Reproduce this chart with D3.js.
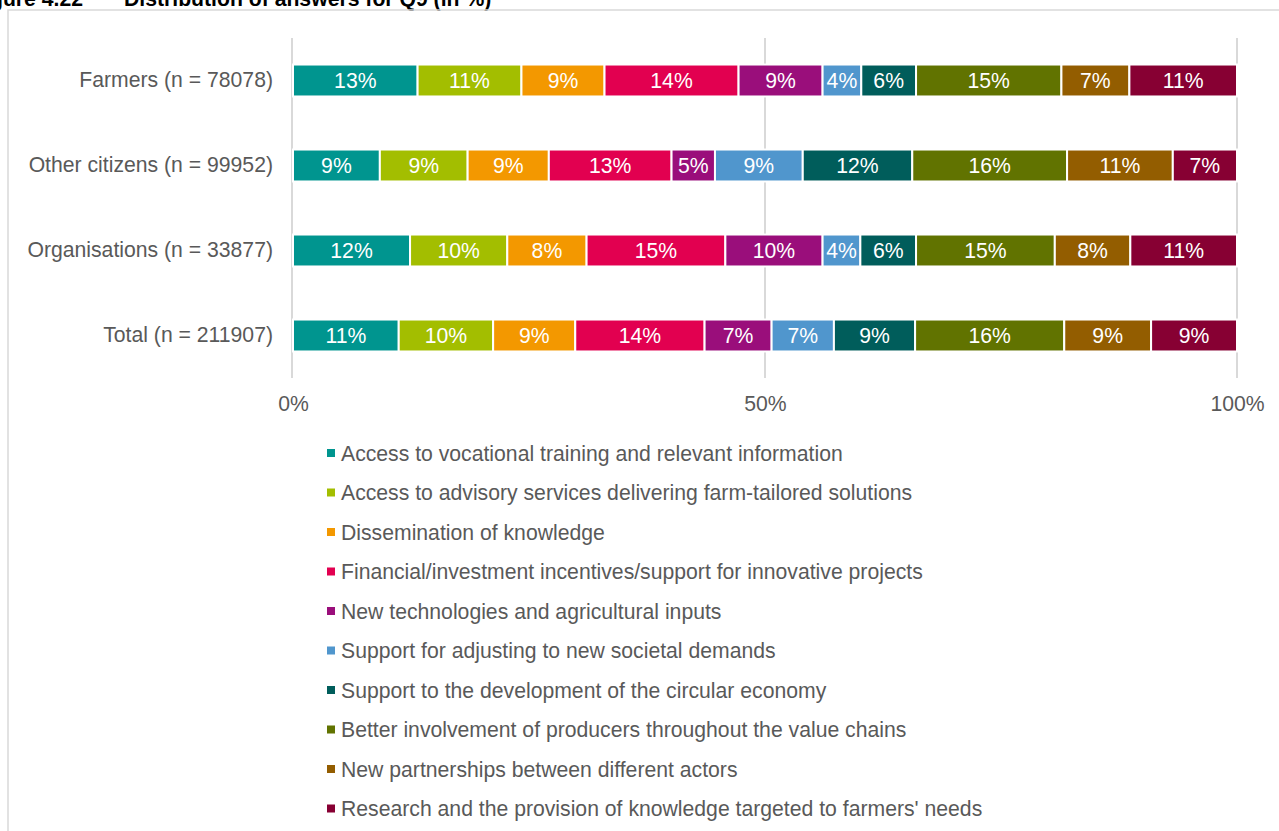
<!DOCTYPE html>
<html>
<head>
<meta charset="utf-8">
<script src="https://cdn.jsdelivr.net/npm/d3@7"></script>
<style>
  body { margin: 0; background: #fff; }
  svg { display: block; font-family: "Liberation Sans", Arial, sans-serif; }
</style>
</head>
<body>
<svg id="chart" width="1279" height="831"></svg>
<script>
// groups (rows, top to bottom)
var groups = ["Farmers (n = 78078)", "Other citizens (n = 99952)",
  "Organisations (n = 33877)", "Total (n = 211907)"];

// answer options (stack order, left to right)
var answers = [
  "Access to vocational training and relevant information",
  "Access to advisory services delivering farm-tailored solutions",
  "Dissemination of knowledge",
  "Financial/investment incentives/support for innovative projects",
  "New technologies and agricultural inputs",
  "Support for adjusting to new societal demands",
  "Support to the development of the circular economy",
  "Better involvement of producers throughout the value chains",
  "New partnerships between different actors",
  "Research and the provision of knowledge targeted to farmers' needs"
];

// shares in %, one array per group, same order as answers
var farmers       = [13.2, 11.0, 8.8, 14.2, 8.9, 4.1, 5.8, 15.4, 7.2, 11.4];
var otherCitizens = [9.2, 9.3, 8.6, 13.0, 4.6, 9.3, 11.6, 16.4, 11.2, 6.8];
var organisations = [12.4, 10.3, 8.4, 14.7, 10.3, 4.0, 5.9, 14.7, 8.0, 11.3];
var total         = [11.2, 10.0, 8.7, 13.7, 7.1, 6.6, 8.6, 15.8, 9.2, 9.1];

var xTicks = [0, 50, 100];

var colors = ["#00958f", "#a3be00", "#f39800", "#e20050", "#9a0e7b",
  "#5096cd", "#005d5b", "#617300", "#935d00", "#870033"];

var svg = d3.select("#chart");
var grey = "#595959";
var fs = "21.2px";

// title, cut off at the top like the source page
svg.append("text")
  .attr("x", 83).attr("y", 6).attr("text-anchor", "end")
  .style("font-size", fs).style("font-weight", "bold")
  .text("Figure 4.22");
svg.append("text")
  .attr("x", 124).attr("y", 6)
  .style("font-size", fs).style("font-weight", "bold")
  .text("Distribution of answers for Q9 (in %)");

// frame
svg.append("path")
  .attr("d", "M8,831V10H1279")
  .attr("fill", "none").attr("stroke", "#d9d9d9").attr("stroke-width", 1.5);

var rows = [farmers, otherCitizens, organisations, total].map(function(vals, i) {
  var r = { group: groups[i] };
  answers.forEach(function(a, j) { r[a] = vals[j]; });
  return r;
});

var x = d3.scaleLinear().domain([0, 100]).range([293, 1237]);
var y = d3.scaleBand().domain(groups).range([38, 378])
  .paddingInner(0.624).paddingOuter(0.312);
var color = d3.scaleOrdinal().domain(answers).range(colors);

// gridlines
svg.append("g").selectAll("line").data(xTicks).enter().append("line")
  .attr("x1", function(d) { return x(d) - (d === 0 ? 1 : 0); })
  .attr("x2", function(d) { return x(d) - (d === 0 ? 1 : 0); })
  .attr("y1", 38).attr("y2", 378)
  .attr("stroke", "#d9d9d9").attr("stroke-width", 2);

// x axis labels
var xAxis = svg.append("g")
  .attr("transform", "translate(0,378)")
  .call(d3.axisBottom(x).tickValues(xTicks)
    .tickFormat(function(d) { return d + "%"; }).tickSize(0).tickPadding(18));
xAxis.select(".domain").remove();
xAxis.selectAll("text")
  .attr("fill", grey).style("font-size", fs)
  .style("font-family", "'Liberation Sans', Arial, sans-serif");

// y axis labels
var yAxis = svg.append("g")
  .attr("transform", "translate(273,0)")
  .call(d3.axisLeft(y).tickSize(0).tickPadding(0));
yAxis.select(".domain").remove();
yAxis.selectAll("text")
  .attr("fill", grey).style("font-size", fs)
  .style("font-family", "'Liberation Sans', Arial, sans-serif");

// stacked bars
var series = d3.stack().keys(answers)(rows);

var layer = svg.append("g").selectAll("g").data(series).enter().append("g")
  .attr("fill", function(s) { return color(s.key); });

layer.selectAll("rect").data(function(s) { return s; }).enter().append("rect")
  .attr("x", function(d) { return x(d[0]); })
  .attr("y", function(d) { return y(d.data.group); })
  .attr("width", function(d) { return x(d[1]) - x(d[0]); })
  .attr("height", y.bandwidth())
  .attr("stroke", "#fff").attr("stroke-width", 2);

layer.selectAll("text").data(function(s) { return s; }).enter().append("text")
  .attr("x", function(d) { return (x(d[0]) + x(d[1])) / 2; })
  .attr("y", function(d) { return y(d.data.group) + y.bandwidth() / 2 + 7.5; })
  .attr("text-anchor", "middle")
  .attr("fill", "#fff").style("font-size", fs)
  .text(function(d) { return Math.round(d[1] - d[0]) + "%"; });

// legend
var legend = svg.append("g").selectAll("g").data(answers).enter().append("g")
  .attr("transform", function(d, i) { return "translate(327," + (453 + i * 39.5) + ")"; });

legend.append("rect")
  .attr("x", 0).attr("y", -4).attr("width", 8).attr("height", 8)
  .attr("fill", function(d) { return color(d); });

legend.append("text")
  .attr("x", 14).attr("y", 7.5)
  .attr("fill", grey).style("font-size", fs)
  .text(function(d) { return d; });
</script>
</body>
</html>
